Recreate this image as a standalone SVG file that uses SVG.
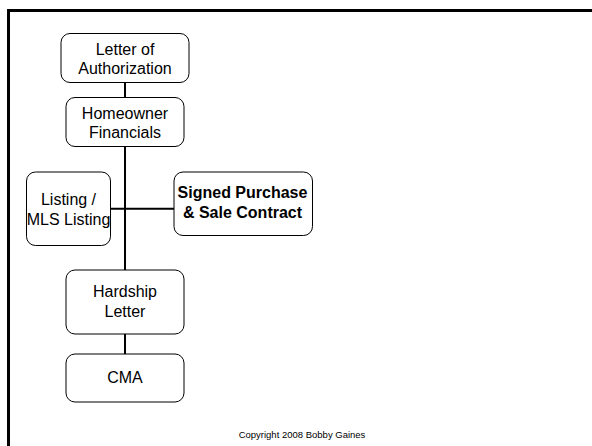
<svg xmlns="http://www.w3.org/2000/svg" width="592" height="446" viewBox="0 0 592 446">
  <style>
    .box { fill: #ffffff; stroke: #000000; stroke-width: 1; }
    .lbl { font-family: "Liberation Sans", Arial, sans-serif; font-size: 16px; fill: #000000; text-anchor: middle; }
    .bold { font-weight: bold; }
    .link { stroke: #000000; stroke-width: 2; fill: none; }
    .frame { stroke: #000000; stroke-width: 3; fill: none; }
    .note { font-family: "Liberation Sans", Arial, sans-serif; font-size: 9.5px; fill: #000000; text-anchor: middle; }
  </style>

  <rect width="592" height="446" fill="#ffffff"/>

  <!-- slide frame, open on the right and bottom -->
  <path class="frame" d="M8.5 446 V10.5 H592"/>

  <!-- connectors -->
  <g id="connectors">
    <line class="link" x1="125" y1="82" x2="125" y2="97"/>
    <line class="link" x1="125" y1="147" x2="125" y2="270"/>
    <line class="link" x1="110" y1="208.7" x2="174" y2="208.7"/>
    <line class="link" x1="125" y1="334" x2="125" y2="354"/>
  </g>

  <g id="letter-of-authorization">
    <rect class="box" x="61" y="33.5" width="128" height="49" rx="9"/>
    <text class="lbl" x="125" y="55">Letter of</text>
    <text class="lbl" x="125" y="74">Authorization</text>
  </g>

  <g id="homeowner-financials">
    <rect class="box" x="66" y="97.5" width="118" height="49" rx="9"/>
    <text class="lbl" x="125" y="118.5">Homeowner</text>
    <text class="lbl" x="125" y="137.5">Financials</text>
  </g>

  <g id="listing">
    <rect class="box" x="26.5" y="172" width="84" height="73.5" rx="9"/>
    <text class="lbl" x="68.5" y="205">Listing /</text>
    <text class="lbl" x="68.5" y="225">MLS Listing</text>
  </g>

  <g id="signed-purchase">
    <rect class="box" x="174" y="172" width="138.5" height="63.5" rx="9"/>
    <text class="lbl bold" x="242.5" y="198.3">Signed Purchase</text>
    <text class="lbl bold" x="242.5" y="218.3">&amp; Sale Contract</text>
  </g>

  <g id="hardship-letter">
    <rect class="box" x="66" y="270" width="118" height="64" rx="9"/>
    <text class="lbl" x="125" y="297.3">Hardship</text>
    <text class="lbl" x="125" y="316.7">Letter</text>
  </g>

  <g id="cma">
    <rect class="box" x="66" y="354" width="118" height="48" rx="9"/>
    <text class="lbl" x="125" y="383.3">CMA</text>
  </g>

  <text class="note" x="302" y="438">Copyright 2008 Bobby Gaines</text>
</svg>
